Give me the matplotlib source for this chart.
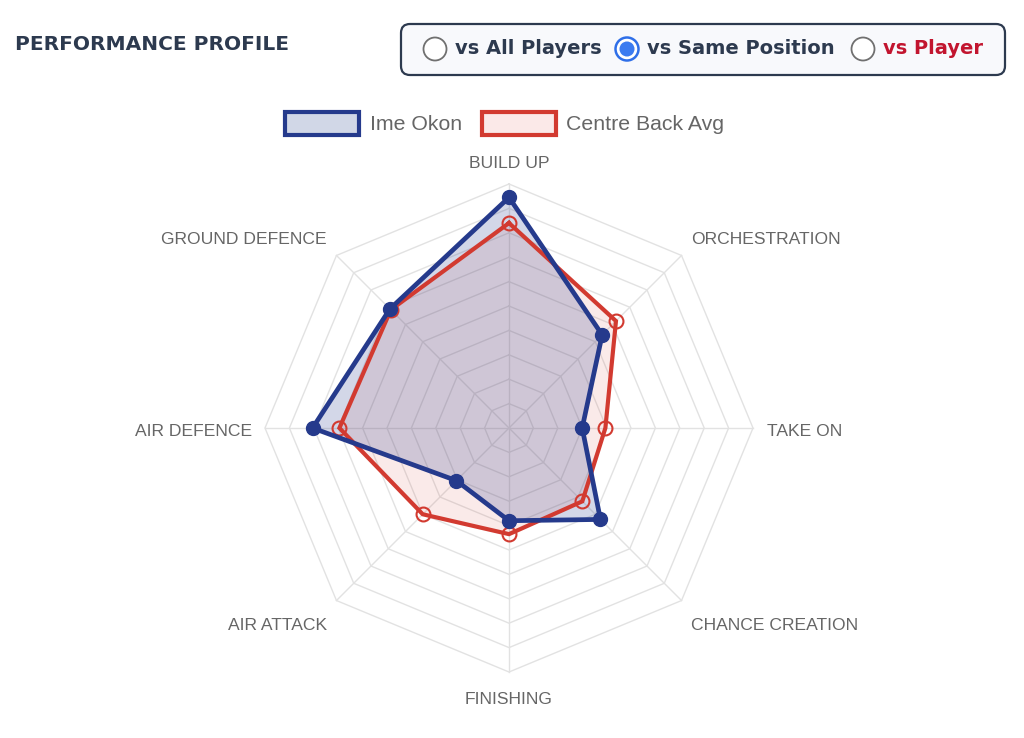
import matplotlib
matplotlib.use("Agg")
import matplotlib.pyplot as plt
import numpy as np
from matplotlib.patches import FancyBboxPatch, Rectangle, Circle

# data
categories = ["BUILD UP", "ORCHESTRATION", "TAKE ON", "CHANCE CREATION",
              "FINISHING", "AIR ATTACK", "AIR DEFENCE", "GROUND DEFENCE"]
player = [94.5, 54, 30, 53, 38, 30.5, 80.5, 69]
average = [84, 62, 39.5, 42.5, 43.5, 50, 69.5, 68.5]
player_name = "Ime Okon"
avg_name = "Centre Back Avg"
ring_steps = np.arange(10, 101, 10)

BLUE = "#253a8c"
RED = "#d23a30"
GRID = "#e2e2e2"
LABEL = "#666666"
NAVY = "#2d3a4f"

W, H = 1024, 738
fig = plt.figure(figsize=(W / 100, H / 100), dpi=100)
ax = fig.add_axes([0, 0, 1, 1])
ax.set_xlim(0, W)
ax.set_ylim(H, 0)
ax.axis("off")

# radar geometry (pixel space)
cx, cy, R = 509, 428, 244
angles = np.deg2rad(90 - 45 * np.arange(len(categories)))


def to_xy(vals):
    v = np.asarray(vals) / 100 * R
    return cx + v * np.cos(angles), cy - v * np.sin(angles)


# grid
for s in ring_steps:
    gx, gy = to_xy([s] * len(categories))
    ax.plot(np.append(gx, gx[0]), np.append(gy, gy[0]), color=GRID, lw=1, zorder=1)
ox, oy = to_xy([100] * len(categories))
for x, y in zip(ox, oy):
    ax.plot([cx, x], [cy, y], color=GRID, lw=1, zorder=1)

# series
ax_, ay_ = to_xy(average)
ax.fill(ax_, ay_, color=RED, alpha=0.1, lw=0, zorder=2)
px, py = to_xy(player)
ax.fill(px, py, color=BLUE, alpha=0.2, lw=0, zorder=3)
ax.plot(np.append(ax_, ax_[0]), np.append(ay_, ay_[0]), color=RED, lw=3, zorder=4,
        solid_joinstyle="miter")
ax.plot(ax_, ay_, "o", ms=10, mfc="none", mec=RED, mew=1.5, zorder=4)
ax.plot(np.append(px, px[0]), np.append(py, py[0]), color=BLUE, lw=3.4, zorder=5,
        solid_joinstyle="miter")
ax.plot(px, py, "o", ms=10, color=BLUE, zorder=5)

# axis labels
label_pos = [(509, 163, "center"), (691, 239, "left"), (767, 432, "left"),
             (691, 625, "left"), (509, 700, "center"), (327, 625, "right"),
             (252, 432, "right"), (327, 239, "right")]
for cat, (x, y, ha) in zip(categories, label_pos):
    ax.text(x, y, cat, ha=ha, va="center", fontsize=12.6, color=LABEL,
            family="Liberation Sans")

# legend
ax.add_patch(Rectangle((285, 112), 74, 23, fc="#d1d7e7", ec=BLUE, lw=3, zorder=6))
ax.text(370, 124, player_name, ha="left", va="center", fontsize=15.3, color=LABEL,
        family="Liberation Sans")
ax.add_patch(Rectangle((482, 112), 74, 23, fc="#fbe9e8", ec=RED, lw=3, zorder=6))
ax.text(566, 124, avg_name, ha="left", va="center", fontsize=15.3, color=LABEL,
        family="Liberation Sans")

# title
ax.text(15, 44, "PERFORMANCE PROFILE", ha="left", va="center", fontsize=14.5,
        color=NAVY, family="DejaVu Sans", weight="bold")

# radio group
ax.add_patch(FancyBboxPatch((401, 24), 604, 51, boxstyle="round,pad=0,rounding_size=9",
                            fc="#f8f9fc", ec=NAVY, lw=1.6, zorder=6))
radios = [(435, "vs All Players", NAVY, False), (627, "vs Same Position", NAVY, True),
          (863, "vs Player", "#c2152f", False)]
for x, txt, col, sel in radios:
    if sel:
        ax.add_patch(Circle((x, 49), 11.5, fc="white", ec="#2f6fe8", lw=1.8, zorder=7))
        ax.add_patch(Circle((x, 49), 7.5, fc="#3b7bf0", ec="none", zorder=8))
    else:
        ax.add_patch(Circle((x, 49), 11.5, fc="white", ec="#707070", lw=1.3, zorder=7))
    ax.text(x + 20, 49, txt, ha="left", va="center", fontsize=14, color=col,
            family="DejaVu Sans", weight="bold", zorder=8)

fig.savefig("out.png", dpi=100)
